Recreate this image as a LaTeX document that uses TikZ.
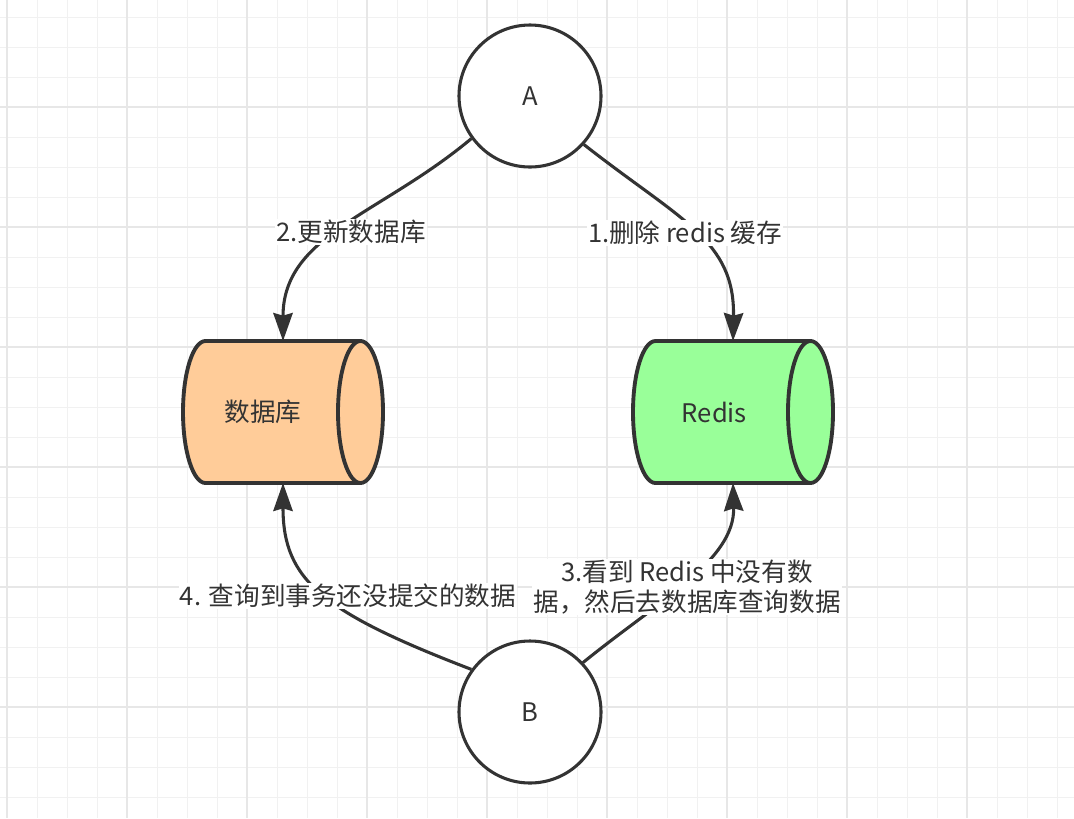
\documentclass[tikz,border=0pt]{standalone}
\usepackage{fontspec}
\setmainfont{Noto Sans CJK SC}
\usetikzlibrary{arrows.meta}
\definecolor{linegray}{HTML}{333333}
\definecolor{gridlight}{HTML}{F1F1F1}
\definecolor{griddark}{HTML}{E7E7E7}
\definecolor{dborange}{HTML}{FFCC99}
\definecolor{redisgreen}{HTML}{99FF99}

\begin{document}
\begin{tikzpicture}[x=0.75pt,y=-0.75pt,
    every node/.style={font=\fontsize{19.2pt}{22.5pt}\selectfont,text=linegray},
    circ/.style={circle,draw=linegray,line width=2.3pt,fill=white,minimum size=106.5pt,inner sep=0pt},
    cylbox/.style={rectangle,minimum width=150pt,minimum height=106.5pt,inner sep=0pt,outer sep=0pt},
    cyl/.style={draw=linegray,line width=2.9pt,line join=round},
    flow/.style={-{Stealth[length=21pt,width=14.5pt,inset=2pt]},draw=linegray,line width=2.3pt},
    lbl/.style={fill=white,inner sep=1pt,align=center}]
    \fill[white](0,0)rectangle(1074,818);
    \useasboundingbox(0,0)rectangle(1074,818);

    % grid
    \foreach \x in {7,37,...,1067} \draw[gridlight,line width=0.75pt](\x,0)--(\x,818);
    \foreach \y in {17,47,...,807} \draw[gridlight,line width=0.75pt](0,\y)--(1074,\y);
    \foreach \x in {7,127,...,967} \draw[griddark,line width=1.1pt](\x,0)--(\x,818);
    \foreach \y in {107,227,...,707} \draw[griddark,line width=1.1pt](0,\y)--(1074,\y);

    \node[circ](A) at (530,96) {A};
    \node[circ](B) at (530,712) {B};
    \node[cylbox](db) at (283,412) {};
    \node[cylbox](redis) at (733,412) {};

    \foreach \c/\f in {db/dborange,redis/redisgreen}{
        \draw[cyl,fill=\f]([xshift=16.875pt]\c.north west)--([xshift=-16.875pt]\c.north east)
            arc[start angle=90,end angle=-90,x radius=16.875pt,y radius=53.25pt]
            --([xshift=16.875pt]\c.south west)
            arc[start angle=270,end angle=90,x radius=16.875pt,y radius=53.25pt]--cycle;
        \draw[cyl]([xshift=-16.875pt]\c.north east)
            arc[start angle=90,end angle=270,x radius=16.875pt,y radius=53.25pt];
    }
    \node(dbtext) at ([xshift=-15pt]db.center) {数据库};
    \node(redistext) at ([xshift=-14pt]redis.center) {Redis};

    \draw[flow](A.216) .. controls (380,215) and (283,235) .. (db.north);
    \draw[flow](A.318) .. controls (680,220) and (735,240) .. (redis.north);
    \draw[flow](B.144) .. controls (322,612) and (283,580) .. (db.south);
    \draw[flow](B.43) .. controls (660,600) and (735,560) .. (redis.south);

    \node[lbl](l2) at (351,232) {2.更新数据库};
    \node[lbl](l1) at (685,233) {1.删除 redis 缓存};
    \node[lbl](l4) at (348,596) {4. 查询到事务还没提交的数据};
    \node[lbl](l3) at (687,587) {3.看到 Redis 中没有数\\据，然后去数据库查询数据};
\end{tikzpicture}
\end{document}
